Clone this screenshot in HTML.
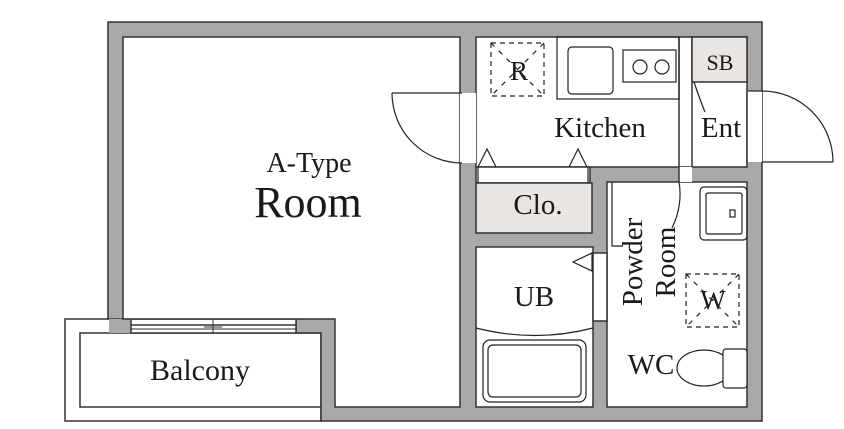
<!DOCTYPE html>
<html><head><meta charset="utf-8"><style>
html,body{margin:0;padding:0;background:#fff;}
svg{display:block}
text{font-family:"Liberation Serif",serif;fill:#1a1a1a}
</style></head><body>
<svg width="844" height="429" viewBox="0 0 844 429" xmlns="http://www.w3.org/2000/svg">
<g stroke="#333" stroke-width="1.5">
<rect x="65" y="319" width="256" height="102" fill="#fff"/>
<rect x="80" y="333" width="241" height="74" fill="#fff"/>
<polygon points="108,22 762,22 762,421 321,421 321,333 296,333 296,319 108,319" fill="#a9a9a9"/>
<rect x="109" y="319" width="22" height="14" fill="#a9a9a9" stroke="none"/>
<rect x="131" y="319" width="165" height="14" fill="#fff"/>
<line x1="131" y1="325" x2="296" y2="325"/>
<line x1="131" y1="329" x2="296" y2="329" stroke-width="1"/>
<line x1="213" y1="320" x2="213" y2="333" stroke-width="1"/>
<line x1="204" y1="327" x2="222" y2="327" stroke-width="1"/>
<polygon points="123,37 460,37 460,407 335,407 335,319 123,319" fill="#fff"/>
<rect x="476" y="37" width="271" height="130" fill="#fff"/>
<rect x="476" y="167" width="114" height="16" fill="#fff"/>
<rect x="476" y="183" width="116" height="50" fill="#e8e5e2"/>
<rect x="476" y="247" width="117" height="160" fill="#fff"/>
<rect x="607" y="182" width="140" height="225" fill="#fff"/>
<rect x="679" y="167" width="13" height="15" fill="#fff" stroke="none"/>
<line x1="679" y1="37" x2="679" y2="182"/>
<line x1="692" y1="37" x2="692" y2="167"/>
<rect x="692" y="37" width="55" height="45" fill="#e8e5e2"/>
<rect x="460" y="93" width="16" height="70" fill="#fff" stroke="none"/>
<rect x="747" y="91" width="15" height="71" fill="#fff" stroke="none"/>
<line x1="747" y1="91" x2="747" y2="162"/>
<rect x="593" y="253" width="14" height="68" fill="#fff"/>
</g>
<g stroke="#222" stroke-width="1.2" fill="none">
<line x1="392" y1="93" x2="462" y2="93"/>
<path d="M392,93 A70,70 0 0 0 462,163"/>
<line x1="748" y1="91" x2="762" y2="91"/>
<path d="M762,91 A71,71 0 0 1 833,162"/>
<line x1="762" y1="162" x2="833" y2="162"/>
<path d="M694,82 Q700,100 705,112"/>
<rect x="557" y="37" width="122" height="62"/>
<rect x="568" y="47" width="45" height="47" rx="4"/>
<rect x="623" y="50" width="53" height="32"/>
<circle cx="640" cy="67" r="7"/>
<circle cx="662" cy="67" r="7"/>
<rect x="491" y="43" width="53" height="53" stroke-dasharray="5,4"/>
<line x1="491" y1="43" x2="544" y2="96" stroke-dasharray="5,6"/>
<line x1="544" y1="43" x2="491" y2="96" stroke-dasharray="5,6"/>
<path d="M478,167 L487,149 L496,167"/>
<path d="M569,167 L578,149 L587,167"/>
<line x1="478" y1="167" x2="478" y2="183"/>
<line x1="588" y1="167" x2="588" y2="183"/>
<path d="M573,262 L592,253 L592,271 Z"/>
<path d="M476,328 Q535,343 593,328"/>
<rect x="483" y="340" width="103" height="62" rx="7"/>
<rect x="488" y="345" width="93" height="52" rx="5"/>
<path d="M612,182 L612,246 L622,246"/>
<path d="M679,182 Q683,205 672,228"/>
<rect x="700" y="187" width="47" height="53" rx="4"/>
<rect x="706" y="193" width="36" height="41" rx="2"/>
<rect x="730" y="210" width="5" height="7"/>
<rect x="686" y="274" width="53" height="53" stroke-dasharray="5,4"/>
<line x1="686" y1="274" x2="739" y2="327" stroke-dasharray="5,6"/>
<line x1="739" y1="274" x2="686" y2="327" stroke-dasharray="5,6"/>
<ellipse cx="704" cy="368" rx="27" ry="18"/>
<rect x="723" y="349" width="24" height="39" rx="3" fill="#fff"/>
</g>
<text x="519" y="80" font-size="27" text-anchor="middle">R</text>
<text x="720" y="70" font-size="22" text-anchor="middle">SB</text>
<text x="600" y="137" font-size="29" text-anchor="middle">Kitchen</text>
<text x="721" y="137" font-size="29" text-anchor="middle">Ent</text>
<text x="538" y="214" font-size="29" text-anchor="middle">Clo.</text>
<text x="534" y="306" font-size="29" text-anchor="middle">UB</text>
<text x="713" y="309" font-size="27" text-anchor="middle">W</text>
<text x="651" y="374" font-size="29" text-anchor="middle">WC</text>
<text transform="translate(642,262) rotate(-90)" font-size="29" text-anchor="middle">Powder</text>
<text transform="translate(675,262) rotate(-90)" font-size="29" text-anchor="middle">Room</text>
<text x="309" y="172" font-size="28" text-anchor="middle">A-Type</text>
<text x="308" y="217" font-size="44" text-anchor="middle">Room</text>
<text x="200" y="380" font-size="30" text-anchor="middle">Balcony</text>
</svg>
</body></html>
